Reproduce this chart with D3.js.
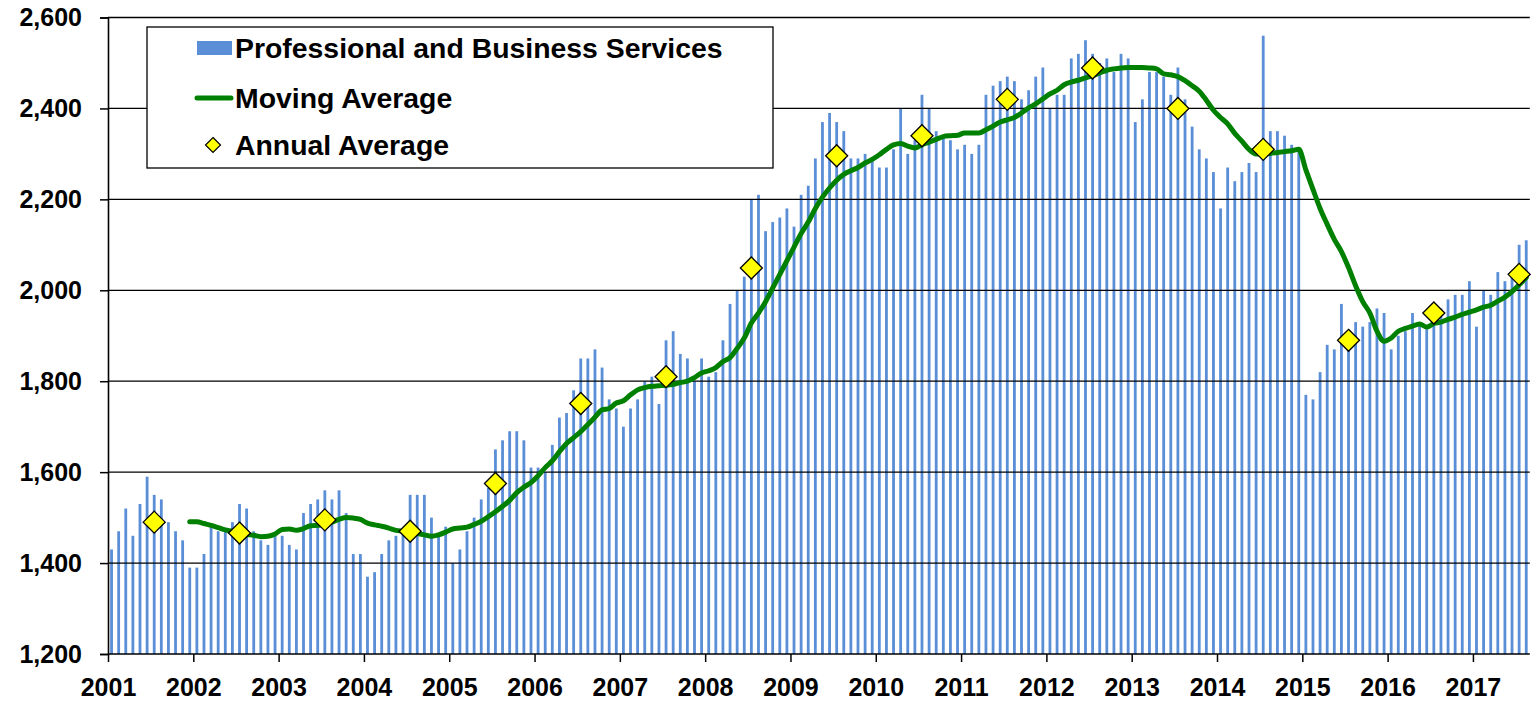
<!DOCTYPE html>
<html>
<head>
<meta charset="utf-8">
<script src="https://cdn.jsdelivr.net/npm/d3@7"></script>
<style>
  html, body { margin: 0; padding: 0; background: #ffffff; }
  svg { display: block; }
  text { font-family: "Liberation Sans", Arial, sans-serif; font-weight: bold; fill: #000; }
</style>
</head>
<body>
<svg id="chart" width="1531" height="702"></svg>
<script>
// ---------- DATA ----------
const years = [2001, 2002, 2003, 2004, 2005, 2006, 2007, 2008, 2009, 2010, 2011, 2012, 2013, 2014, 2015, 2016, 2017];
const yTicks = [1200, 1400, 1600, 1800, 2000, 2200, 2400, 2600];

// Monthly employment (thousands), Jan 2001 .. Aug 2017
const monthly2001 = [1430, 1470, 1520, 1460, 1530, 1590, 1550, 1540, 1490, 1470, 1450, 1390];
const monthly2002 = [1390, 1420, 1480, 1470, 1475, 1490, 1530, 1520, 1470, 1450, 1440, 1460];
const monthly2003 = [1460, 1440, 1430, 1510, 1530, 1540, 1560, 1540, 1560, 1510, 1420, 1420];
const monthly2004 = [1370, 1380, 1420, 1450, 1460, 1470, 1550, 1550, 1550, 1500, 1460, 1480];
const monthly2005 = [1400, 1430, 1470, 1500, 1540, 1565, 1650, 1670, 1690, 1690, 1670, 1610];
const monthly2006 = [1610, 1600, 1660, 1720, 1730, 1780, 1850, 1850, 1870, 1830, 1760, 1740];
const monthly2007 = [1700, 1740, 1760, 1800, 1810, 1750, 1890, 1910, 1860, 1850, 1800, 1850];
const monthly2008 = [1810, 1820, 1890, 1970, 2000, 2030, 2200, 2210, 2130, 2150, 2160, 2180];
const monthly2009 = [2140, 2210, 2230, 2290, 2370, 2390, 2370, 2350, 2290, 2290, 2300, 2290];
const monthly2010 = [2270, 2270, 2310, 2400, 2300, 2330, 2430, 2400, 2350, 2340, 2330, 2310];
const monthly2011 = [2320, 2300, 2320, 2430, 2450, 2460, 2470, 2460, 2420, 2440, 2470, 2490];
const monthly2012 = [2400, 2430, 2430, 2510, 2520, 2550, 2520, 2500, 2510, 2480, 2520, 2510];
const monthly2013 = [2370, 2420, 2480, 2480, 2470, 2430, 2490, 2420, 2360, 2310, 2290, 2260];
const monthly2014 = [2180, 2270, 2240, 2260, 2280, 2260, 2560, 2350, 2350, 2340, 2320, 2310];
const monthly2015 = [1770, 1760, 1820, 1880, 1870, 1970, 1900, 1930, 1920, 1930, 1960, 1950];
const monthly2016 = [1870, 1900, 1910, 1950, 1930, 1920, 1940, 1960, 1980, 1990, 1990, 2020];
const monthly2017 = [1920, 2000, 1990, 2040, 2020, 2030, 2100, 2110];

// Moving average: starts Dec 2001 (month index 11)
const movingAvgStart = 11;
const movingAvg = [
  1491, 1491, 1487, 1483, 1478, 1473, 1470, 1466, 1463, 1461, 1458, 1459, 1464,
  1474, 1475, 1472, 1476, 1482, 1483, 1485, 1490, 1496, 1500, 1499, 1496,
  1488, 1484, 1481, 1477, 1472, 1470, 1468, 1465, 1462, 1459, 1462, 1468,
  1475, 1477, 1479, 1485, 1492, 1502, 1513, 1525, 1538, 1555, 1567, 1577,
  1592, 1610, 1625, 1645, 1663, 1676, 1689, 1705, 1721, 1737, 1740, 1752,
  1757, 1770, 1781, 1786, 1789, 1790, 1791, 1793, 1797, 1800, 1808, 1818,
  1823, 1830, 1843, 1852, 1872, 1895, 1928, 1950, 1975, 2005, 2035, 2065,
  2095, 2125, 2150, 2180, 2205, 2225, 2242, 2255, 2263, 2270, 2280, 2288,
  2298, 2310, 2320, 2323, 2317, 2313, 2320, 2326, 2332, 2338, 2340, 2341,
  2346, 2346, 2346, 2353, 2361, 2370, 2375, 2380, 2390, 2401, 2410, 2421,
  2432, 2440, 2452, 2458, 2462, 2467, 2472, 2478, 2484, 2487, 2489, 2490,
  2490, 2490, 2489, 2487, 2476, 2474, 2470, 2461, 2450, 2438, 2418, 2396,
  2380, 2366, 2345, 2328, 2310, 2300, 2300, 2301, 2303, 2305, 2307, 2310,
  2265, 2222, 2180, 2145, 2112, 2085, 2050, 2010, 1975, 1950, 1910, 1888,
  1895, 1910, 1916, 1921, 1926, 1919, 1927, 1930, 1936, 1941, 1947, 1952,
  1957, 1963, 1967, 1976, 1985, 1997, 2012, 2028
];

// Annual averages (plotted at July of each year)
const annualAvg = [1490, 1466, 1495, 1470, 1575, 1751, 1810, 2049, 2296, 2340, 2420, 2489, 2400, 2310, 1890, 1950, 2035];

const legendLabels = ["Professional and Business Services", "Moving Average", "Annual Average"];

// ---------- BUILD ----------
(function () {
const monthlyAll = [].concat(monthly2001, monthly2002, monthly2003, monthly2004, monthly2005, monthly2006,
  monthly2007, monthly2008, monthly2009, monthly2010, monthly2011, monthly2012, monthly2013, monthly2014,
  monthly2015, monthly2016, monthly2017);
const barData = monthlyAll.map((v, i) => ({ m: i, v }));
const maData = movingAvg.map((v, i) => ({ m: movingAvgStart + i, v }));
const annData = annualAvg.map((v, i) => ({ m: i * 12 + 6, v }));

const svg = d3.select("#chart");
const pL = 108, pR = 1529.8, pT = 17.5, pB = 654;
const nMonths = 200;

const xm = d3.scaleLinear().domain([0, nMonths]).range([pL, pR]);
const xc = m => xm(m + 0.5);
const xYear = d3.scaleLinear().domain([2001, 2001 + nMonths / 12]).range([pL, pR]);
const y = d3.scaleLinear().domain([1200, 2600]).range([pB, pT]);

const blue = "#5A8ED6";
const green = "#008000";

// bars
const bw = 2.8;
svg.append("g").selectAll("rect").data(barData).join("rect")
  .attr("x", d => xc(d.m) - bw / 2)
  .attr("y", d => y(d.v))
  .attr("width", bw)
  .attr("height", d => y(1200) - y(d.v))
  .attr("fill", blue);

// gridlines
svg.append("g").selectAll("line").data(yTicks.filter(t => t > 1200)).join("line")
  .attr("x1", pL).attr("x2", pR)
  .attr("y1", d => y(d)).attr("y2", d => y(d))
  .attr("stroke", "#000").attr("stroke-width", 1.3);

// y axis
const yAxis = d3.axisLeft(y).tickValues(yTicks).tickSize(8).tickPadding(18)
  .tickFormat(d3.format(","));
const gy = svg.append("g").attr("transform", `translate(${pL},0)`).call(yAxis);
gy.select(".domain").attr("stroke", "#000").attr("stroke-width", 1.6);
gy.selectAll(".tick line").attr("stroke", "#000").attr("stroke-width", 1.5);
gy.selectAll(".tick text").attr("font-size", 25).attr("font-weight", "bold")
  .attr("font-family", "'Liberation Sans', Arial, sans-serif").attr("fill", "#000");

// x axis
const xAxis = d3.axisBottom(xYear).tickValues(years).tickSize(8).tickPadding(16).tickFormat(d3.format("d"));
const gx = svg.append("g").attr("transform", `translate(0,${pB})`).call(xAxis);
gx.select(".domain").attr("stroke", "#000").attr("stroke-width", 1.6).attr("d", `M${pL},0H${pR}`);
gx.selectAll(".tick line").attr("stroke", "#000").attr("stroke-width", 1.5);
gx.selectAll(".tick text").attr("font-size", 25).attr("font-weight", "bold")
  .attr("font-family", "'Liberation Sans', Arial, sans-serif").attr("fill", "#000");

// moving average line
const line = d3.line().x(d => xc(d.m)).y(d => y(d.v)).curve(d3.curveMonotoneX);
svg.append("path").datum(maData)
  .attr("d", line).attr("fill", "none").attr("stroke", green)
  .attr("stroke-width", 5).attr("stroke-linejoin", "round").attr("stroke-linecap", "round");

// annual average diamonds
const dsz = 11;
const diamond = (cx, cy, r) => `M${cx},${cy - r}L${cx + r},${cy}L${cx},${cy + r}L${cx - r},${cy}Z`;
svg.append("g").selectAll("path").data(annData).join("path")
  .attr("d", d => diamond(xc(d.m), y(d.v), dsz))
  .attr("fill", "#FFFF00").attr("stroke", "#000").attr("stroke-width", 1.3);

// legend
const lg = svg.append("g");
lg.append("rect").attr("x", 147).attr("y", 27).attr("width", 626).attr("height", 141)
  .attr("fill", "#fff").attr("stroke", "#000").attr("stroke-width", 1.3);
lg.append("rect").attr("x", 197).attr("y", 41).attr("width", 35).attr("height", 14).attr("fill", blue);
lg.append("line").attr("x1", 197).attr("x2", 231).attr("y1", 98).attr("y2", 98)
  .attr("stroke", green).attr("stroke-width", 5).attr("stroke-linecap", "round");
lg.append("path").attr("d", diamond(213, 145, 7.5)).attr("fill", "#FFFF00").attr("stroke", "#000").attr("stroke-width", 1.2);
const ly = [48, 98, 145];
legendLabels.forEach((t, i) => {
  lg.append("text").attr("x", 235).attr("y", ly[i]).attr("dy", "0.35em")
    .attr("font-size", 28.4).text(t);
});
})();
</script>
</body>
</html>
